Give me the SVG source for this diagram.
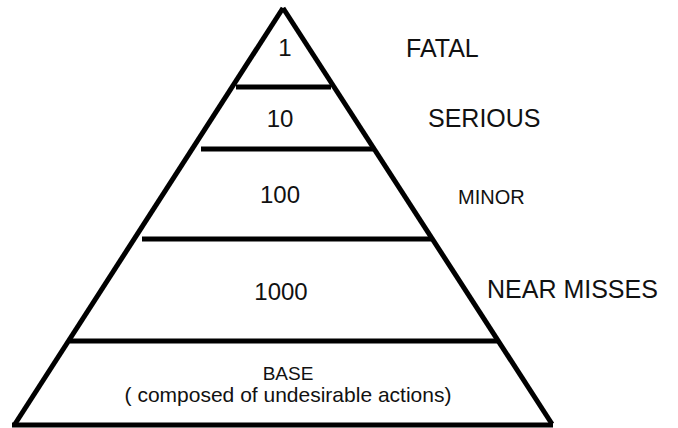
<svg xmlns="http://www.w3.org/2000/svg" width="678" height="428" viewBox="0 0 678 428">
<style>
.ln{stroke:#000;stroke-width:5;fill:none}
.t{font-family:"Liberation Sans",Arial,sans-serif;fill:#111}
.num{font-size:24px;text-anchor:middle}
.lab{font-size:25px}
.mid{text-anchor:middle}
</style>
<rect width="678" height="428" fill="#fff"/>
<g id="pyramid">
<line class="ln" x1="15" y1="424" x2="283" y2="8"/>
<line class="ln" x1="283" y1="8" x2="552" y2="424"/>
<line class="ln" x1="12" y1="425" x2="553" y2="425"/>
<line class="ln" x1="236" y1="87" x2="331" y2="87"/>
<line class="ln" x1="201" y1="149" x2="373" y2="149"/>
<line class="ln" x1="142" y1="239" x2="431" y2="239"/>
<line class="ln" x1="70" y1="341" x2="499" y2="341"/>
</g>
<g id="fatal">
<text class="t num" x="285" y="56">1</text>
<text class="t lab" x="406" y="57">FATAL</text>
</g>
<g id="serious">
<text class="t num" x="280" y="127">10</text>
<text class="t lab" x="428" y="127">SERIOUS</text>
</g>
<g id="minor">
<text class="t num" x="280" y="203">100</text>
<text class="t" x="458" y="204" style="font-size:20px">MINOR</text>
</g>
<g id="near-misses">
<text class="t num" x="281" y="300">1000</text>
<text class="t lab" x="487" y="298">NEAR MISSES</text>
</g>
<g id="base">
<text class="t mid" x="288" y="380" style="font-size:19px">BASE</text>
<text class="t mid" x="288" y="402" style="font-size:21px">( composed of undesirable actions)</text>
</g>
</svg>
